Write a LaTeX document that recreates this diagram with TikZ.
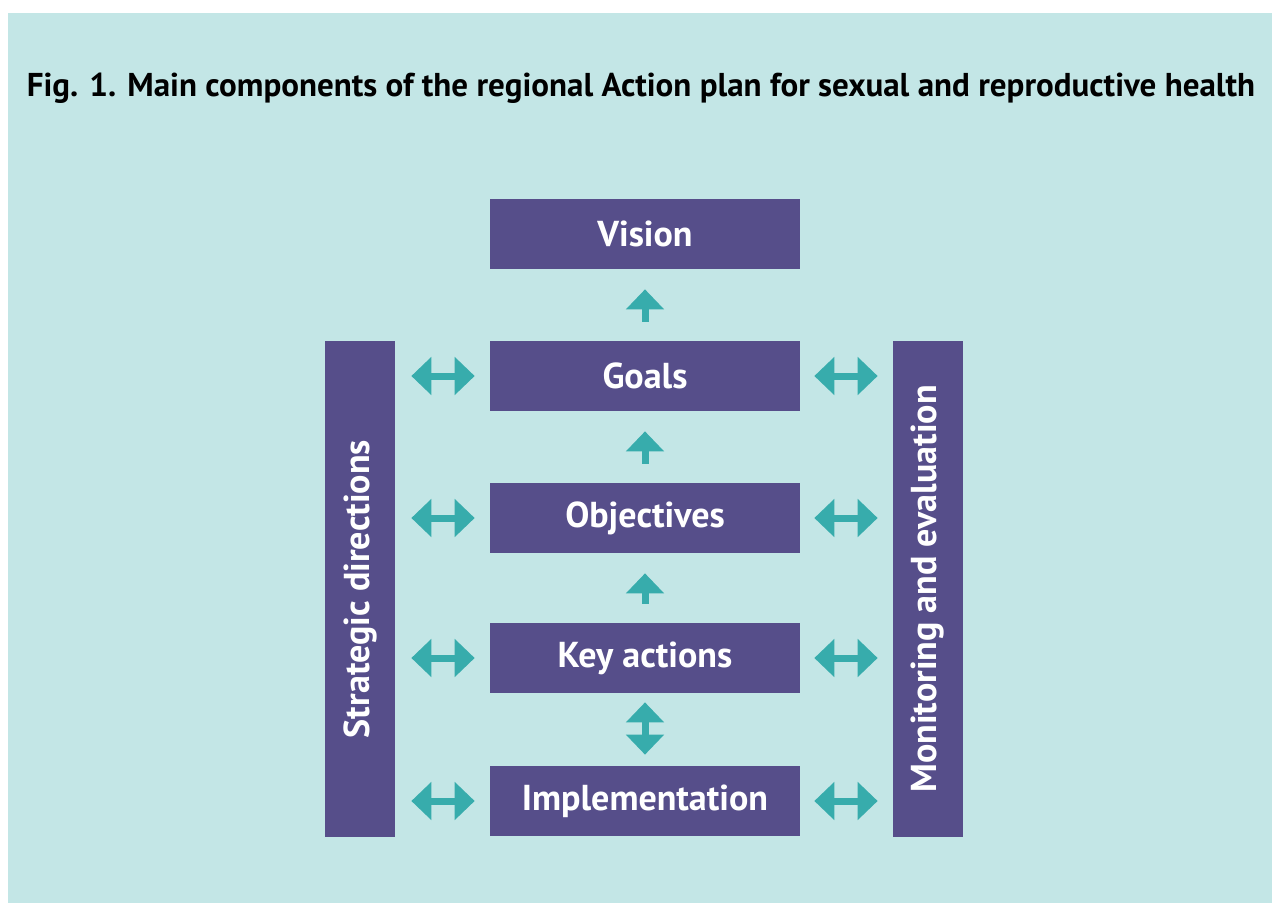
\documentclass[tikz,border=0pt]{standalone}
\usepackage{graphicx}
\usepackage{fontspec}
\newfontfamily\ptsans{PT Sans}
\usetikzlibrary{arrows.meta}
\usetikzlibrary{calc}

\definecolor{bgteal}{HTML}{C3E6E6}
\definecolor{boxpurple}{HTML}{564E8A}
\definecolor{arrowteal}{HTML}{37ACAC}

\tikzset{
  block/.style={fill=boxpurple, text=white, inner sep=0pt,
    minimum width=6.2cm, minimum height=1.4cm,
    font=\ptsans\bfseries\fontsize{20.5}{24}\selectfont},
  sidebar/.style={block, minimum width=1.4cm, minimum height=9.92cm},
  fat/.style={draw=arrowteal, line width=0.14cm},
  uparrow/.style={fat, -{Triangle[length=0.4cm,width=0.74cm]}},
  twoway/.style={fat, {Triangle[length=0.4cm,width=0.74cm]}-{Triangle[length=0.4cm,width=0.74cm]}},
}

\begin{document}
\begin{tikzpicture}[x=0.02cm, y=-0.02cm, font=\ptsans\bfseries]
	\useasboundingbox (0,0) rectangle (1272,903);
	\fill[bgteal] (8,13) rectangle (1272,903);
	\node[anchor=base, font=\ptsans\bfseries\fontsize{18.8}{22}\selectfont] (title) at (641,96)
		{Fig. 1. Main components of the regional Action plan for sexual and reproductive health};
	% centre column
	\foreach \name/\label/\ypos in {vision/Vision/234, goals/Goals/376, obj/Objectives/518, key/Key actions/658, impl/Implementation/801} {
		\node[block] (\name) at (645,\ypos) {\label};
	}
	% side bars
	\node[sidebar] (strat) at (360,589) {\rotatebox{90}{Strategic directions}};
	\node[sidebar] (monit) at (928,589) {\rotatebox{90}{Monitoring and evaluation}};
	% arrows
	\foreach \from/\to in {goals/vision, obj/goals, key/obj} {
		\draw[uparrow, shorten <=0.38cm, shorten >=0.4cm] (\from) -- (\to);
	}
	\draw[twoway, shorten <=0.18cm, shorten >=0.22cm] (key) -- (impl);
	\foreach \name in {goals, obj, key, impl} {
		\draw[twoway, shorten <=0.32cm, shorten >=0.3cm] (strat.east |- \name.west) -- (\name.west);
		\draw[twoway, shorten <=0.28cm, shorten >=0.3cm] (\name.east) -- (monit.west |- \name.east);
	}
\end{tikzpicture}
\end{document}
